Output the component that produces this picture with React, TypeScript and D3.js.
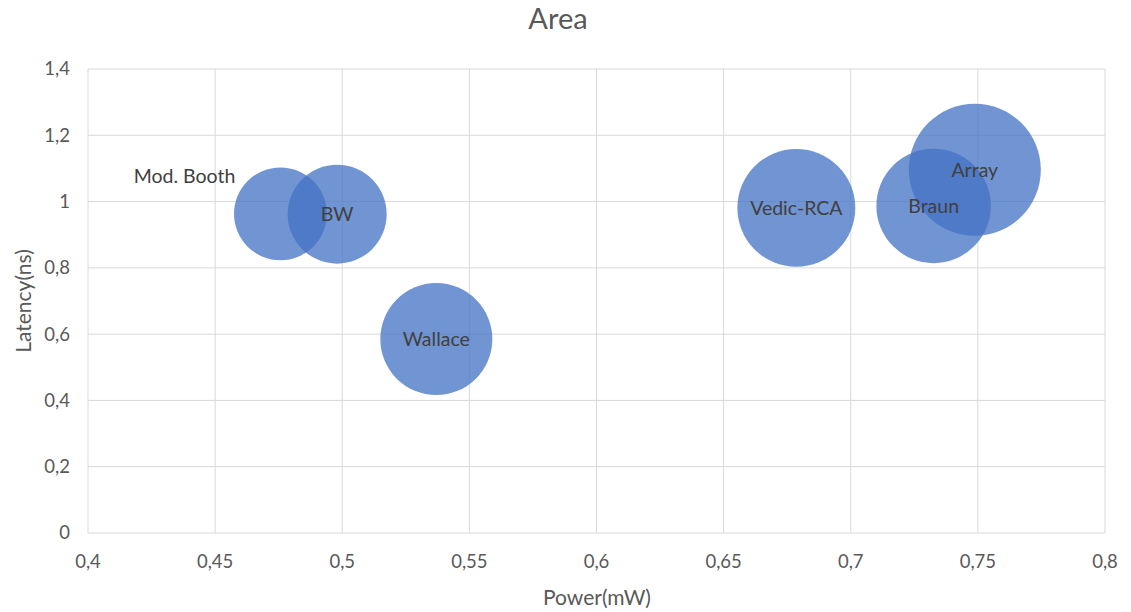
import React from "react";
import * as d3 from "d3";

const names = ["Mod. Booth", "BW", "Wallace", "Vedic-RCA", "Braun", "Array"];
const power = [0.4757, 0.498, 0.537, 0.6786, 0.7326, 0.7488];
const latency = [0.963, 0.962, 0.585, 0.981, 0.987, 1.096];
const area = [2160, 2450, 3140, 3480, 3280, 4360];
const xTicks = [0.4, 0.45, 0.5, 0.55, 0.6, 0.65, 0.7, 0.75, 0.8];
const yTicks = [0, 0.2, 0.4, 0.6, 0.8, 1, 1.2, 1.4];

const W = 1131;
const H = 612;
const M = { left: 88, right: 26, top: 69, bottom: 79 };
const FONT = "Lato, 'Open Sans', sans-serif";

const locale = d3.formatLocale({ decimal: ",", thousands: ".", grouping: [3], currency: ["", ""] });
const fmt = (v: number) => locale.format("~g")(v);

// manual label offsets (label moved by user in source chart)
const labelOffset: Record<string, [number, number]> = { "Mod. Booth": [-96, -38] };

export default function App() {
  const x = d3.scaleLinear().domain([0.4, 0.8]).range([M.left, W - M.right]);
  const y = d3.scaleLinear().domain([0, 1.4]).range([H - M.bottom, M.top]);
  const r = d3.scaleSqrt().domain([0, d3.max(area) as number]).range([0, 66]);

  const data = names.map((n, i) => ({ n, px: power[i], py: latency[i], a: area[i] }));

  return (
    <svg width={W} height={H} style={{ position: "absolute", left: 0, top: 0, background: "#fff" }} fontFamily={FONT}>
      <text x={558} y={29} textAnchor="middle" fontSize={29} fill="#595959">Area</text>
      {yTicks.map((t) => (
        <g key={"y" + t}>
          <line x1={x(0.4)} x2={x(0.8)} y1={y(t)} y2={y(t)} stroke="#d9d9d9" strokeWidth={1} />
          <text x={70} y={y(t)} dy="0.35em" textAnchor="end" fontSize={18.5} fill="#595959">{fmt(t)}</text>
        </g>
      ))}
      {xTicks.map((t) => (
        <g key={"x" + t}>
          <line x1={x(t)} x2={x(t)} y1={y(0)} y2={y(1.4)} stroke="#d9d9d9" strokeWidth={1} />
          <text x={x(t)} y={y(0) + 35} textAnchor="middle" fontSize={18.5} fill="#595959">{fmt(t)}</text>
        </g>
      ))}
      {data.map((d) => (
        <circle key={d.n} cx={x(d.px)} cy={y(d.py)} r={r(d.a)} fill="#4472C4" fillOpacity={0.76} />
      ))}
      {data.map((d) => {
        const off = labelOffset[d.n] || [0, 0];
        return (
          <text key={"l" + d.n} x={x(d.px) + off[0]} y={y(d.py) + off[1]} dy="0.35em" textAnchor="middle" fontSize={19.5} fill="#404040">{d.n}</text>
        );
      })}
      <text x={597} y={605} textAnchor="middle" fontSize={21} fill="#595959">Power(mW)</text>
      <text transform={`translate(31,${(y(0) + y(1.4)) / 2}) rotate(-90)`} textAnchor="middle" fontSize={21} fill="#595959">Latency(ns)</text>
    </svg>
  );
}
